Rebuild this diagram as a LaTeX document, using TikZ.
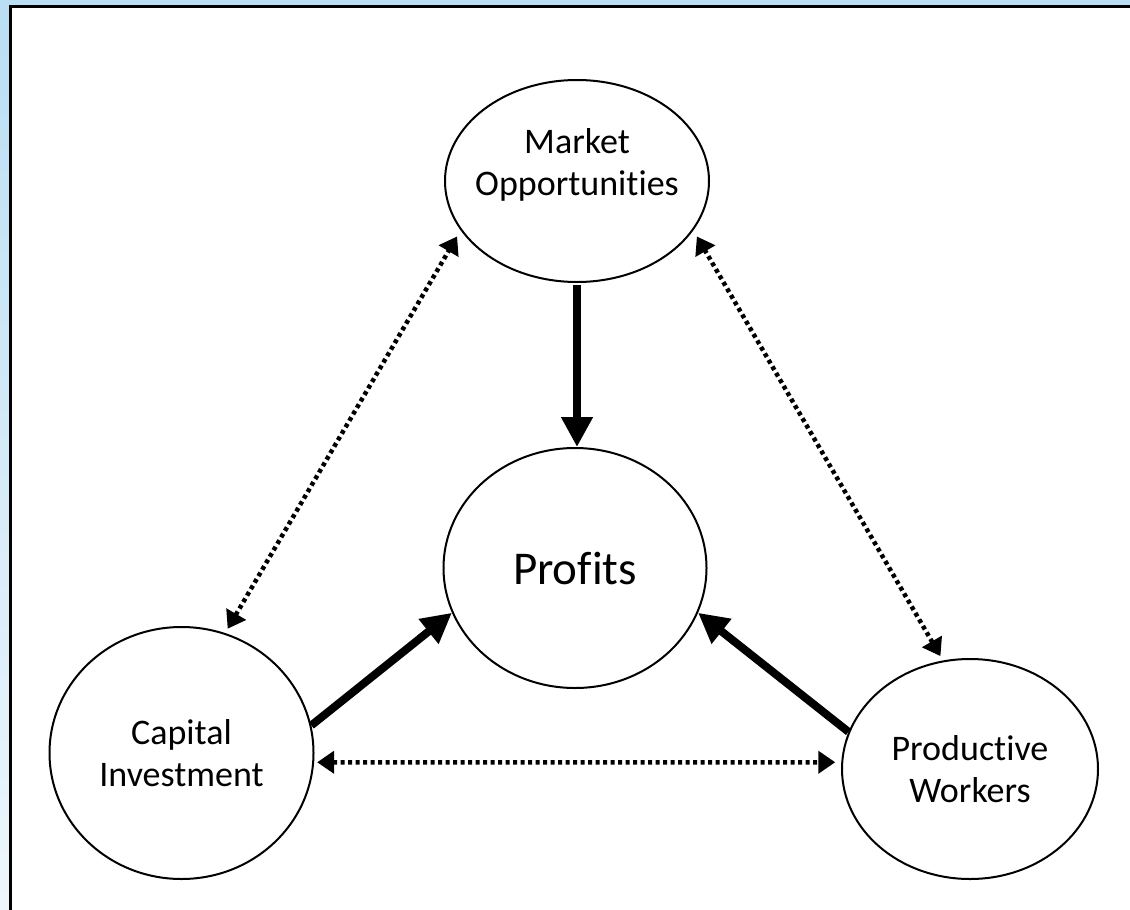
\documentclass[tikz,border=0pt]{standalone}
\usepackage{fontspec}
\setmainfont{Carlito}[Ligatures=NoCommon]
\usepackage{tikz}
\usetikzlibrary{shapes.geometric, arrows.meta, positioning}
\usepackage{xcolor}
\definecolor{skytop}{RGB}{186,222,243}
\definecolor{skylow}{RGB}{238,246,252}

\tikzset{
    bubble/.style={ellipse, draw, line width=2pt, inner sep=0pt},
    bubbletext/.style={font=\fontsize{36}{42}\selectfont, align=center},
    push/.style={line width=8pt, -{Triangle[length=30pt, width=30pt]}},
    link/.style={line width=4.5pt, dash pattern=on 4pt off 3.5pt,
        {Triangle[length=17pt, width=22pt]}-{Triangle[length=17pt, width=22pt]}}
}

\begin{document}
\begin{tikzpicture}[x=1pt, y=-1pt]
        \useasboundingbox (0,0) rectangle (1130,910);
        \shade[top color=skytop, bottom color=skylow] (0,0) rectangle (1130,910);
        \fill[white] (10.5,6.5) rectangle (1140,920);
        \draw[line width=3pt] (10.5,920) -- (10.5,6.5) -- (1140,6.5);
        % the four bubbles
        \node[bubble, minimum width=264pt, minimum height=202pt] (market) at (577,181) {};
        \node[bubbletext] (markettext) at (577,165) {Market\\Opportunities};
        \node[bubble, minimum width=263pt, minimum height=240pt, font=\fontsize{47}{56}\selectfont] (profits) at (575,568) {Profits};
        \node[bubble, bubbletext, minimum width=264pt, minimum height=252pt] (capital) at (181.5,753) {Capital\\Investment};
        \node[bubble, bubbletext, minimum width=256pt, minimum height=220pt] (workers) at (970,769) {Productive\\Workers};
        % arrows into profits
        \draw[push] ([yshift=-2pt]market.south) -- (market.south |- profits.north);
        \draw[push] (capital.12) -- (profits.200);
        \draw[push] (workers.163) -- (profits.340);
        % dotted links
        \draw[link, shorten <=5pt, shorten >=7pt] (capital.70) -- (market.203);
        \draw[link, shorten <=5pt, shorten >=7pt] (workers.104) -- (market.337);
        \draw[link, shorten <=3pt, shorten >=6pt] (capital.-4) -- (workers.177);
    \end{tikzpicture}
\end{document}
